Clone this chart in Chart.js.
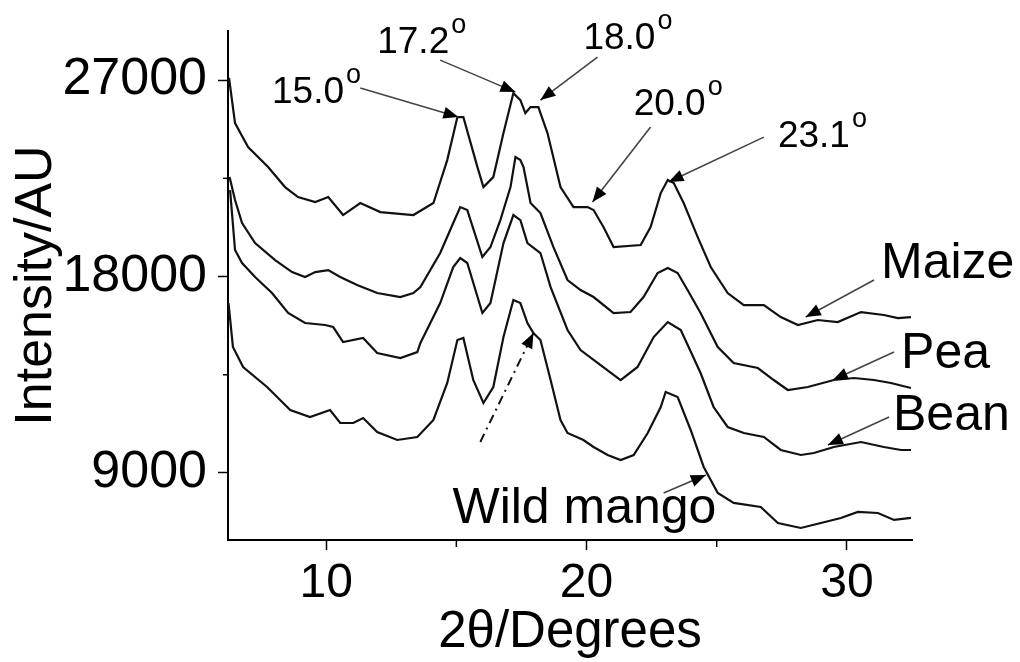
<!DOCTYPE html>
<html>
<head>
<meta charset="utf-8">
<script src="https://cdn.jsdelivr.net/npm/chart.js@4"></script>
<style>
  html, body { margin: 0; padding: 0; background: #fff; }
</style>
</head>
<body>
<canvas id="myChart" width="1020" height="662"></canvas>
<script>
// XRD patterns, 2theta in degrees, intensity in AU
var maizeX = [6.27, 6.50, 7.00, 7.77, 8.42, 8.92, 9.58, 10.08, 10.65, 11.31, 12.08, 13.35, 14.12, 14.65, 15.04, 15.27, 15.81, 16.04, 16.42, 16.81, 17.19, 17.46, 17.65, 17.85, 18.15, 18.50, 19.00, 19.50, 20.04, 20.27, 20.65, 21.04, 22.08, 22.46, 22.85, 23.12, 23.35, 23.73, 24.27, 24.77, 25.42, 26.04, 26.81, 27.46, 28.12, 28.88, 29.65, 30.54, 31.42, 31.96, 32.46];
var maizeY = [27100, 25031, 23931, 23015, 22099, 21641, 21412, 21641, 20817, 21367, 20954, 20817, 21367, 23336, 25305, 25305, 23015, 22099, 22557, 24573, 26405, 26084, 25489, 25763, 25763, 24573, 22099, 21183, 21183, 21046, 20267, 19351, 19443, 20267, 21825, 22420, 22283, 21367, 19809, 18435, 17245, 16695, 16695, 16145, 15779, 16008, 15916, 16374, 16237, 16100, 16145];

var peaX = [6.29, 6.50, 6.77, 7.27, 8.04, 8.69, 9.19, 9.58, 10.08, 10.54, 11.19, 11.96, 12.85, 13.35, 13.62, 14.38, 14.88, 15.15, 15.42, 16.00, 16.31, 16.69, 17.08, 17.27, 17.46, 17.58, 17.85, 18.23, 18.73, 19.27, 19.77, 20.27, 21.04, 21.69, 22.19, 22.73, 23.12, 23.50, 23.88, 24.38, 25.04, 25.65, 26.58, 27.19, 27.73, 28.50, 29.50, 30.27, 31.04, 31.69, 32.46];
var peaY = [22557, 21504, 20451, 19535, 18756, 18206, 17977, 18206, 18298, 17977, 17611, 17245, 17061, 17245, 17519, 19077, 20451, 21183, 21046, 18893, 19351, 20588, 22099, 23473, 23336, 23015, 21367, 20909, 19351, 17840, 17382, 17061, 16329, 16374, 17061, 18161, 18390, 18161, 17382, 16329, 14771, 14039, 13810, 13260, 12802, 12939, 13260, 13352, 13260, 13123, 12894];

var beanX = [6.31, 6.50, 6.77, 7.27, 7.92, 8.54, 9.19, 9.96, 10.27, 10.65, 11.42, 11.96, 12.85, 13.50, 13.62, 14.38, 14.88, 15.15, 15.42, 16.00, 16.31, 16.81, 17.19, 17.46, 17.73, 18.23, 18.62, 19.27, 19.77, 20.54, 21.31, 21.96, 22.58, 23.12, 23.62, 24.38, 24.88, 25.42, 26.04, 26.81, 27.46, 28.23, 28.73, 29.50, 30.54, 31.42, 32.08, 32.46];
var beanY = [21962, 19214, 18619, 17977, 17245, 16329, 15871, 15779, 15687, 15000, 15184, 14497, 14268, 14542, 14955, 16787, 18435, 18848, 18619, 16329, 16787, 19535, 20817, 20588, 19535, 19077, 17519, 15550, 14634, 13947, 13260, 13857, 15229, 15916, 15550, 13581, 12023, 11107, 10833, 10649, 10054, 9825, 9917, 10191, 10420, 10191, 10054, 10054];

var mangoX = [6.25, 6.42, 6.81, 7.73, 8.62, 9.38, 10.15, 10.54, 11.04, 11.42, 11.96, 12.73, 13.50, 14.12, 14.65, 15.04, 15.27, 15.65, 16.04, 16.42, 16.81, 17.19, 17.46, 17.73, 17.96, 18.23, 18.62, 19.00, 19.27, 19.88, 20.27, 20.81, 21.31, 21.81, 22.35, 22.85, 23.04, 23.50, 24.00, 24.50, 25.04, 25.65, 26.69, 27.35, 28.23, 29.00, 29.77, 30.42, 31.19, 31.81, 32.46];
var mangoY = [16787, 14771, 13857, 12939, 11886, 11565, 11886, 11291, 11291, 11520, 10878, 10512, 10649, 11428, 13123, 15092, 15184, 13260, 12207, 12939, 15229, 16924, 16787, 15871, 15413, 15092, 13260, 11428, 10833, 10512, 10191, 9825, 9596, 9825, 10833, 12023, 12710, 12481, 10970, 9275, 8085, 7627, 7443, 6711, 6482, 6711, 6940, 7214, 7168, 6848, 6940];

// axis ticks: all tick positions, and the ones that carry a label
var xTicks = [10, 15, 20, 25, 30];
var xTickLabels = [10, 20, 30];
var yTicks = [9000, 13500, 18000, 22500, 27000];
var yTickLabels = [9000, 18000, 27000];

// peak labels (2theta text) and where their arrows point
var peakLabels = ['15.0', '17.2', '18.0', '20.0', '23.1'];
var peakLabelX = [7.92, 11.96, 19.88, 21.81, 27.35];
var peakLabelY = [25947, 28237, 28420, 25397, 23931];
var peakArrowFrom = [[11.31, 26634], [14.38, 27916], [20.42, 28053], [22.46, 24847], [26.81, 24389]];
var peakArrowTo = [[15.08, 25305], [17.27, 26450], [18.23, 26084], [20.23, 21412], [23.15, 22328]];

// sample names and their arrows
var sampleNames = ['Maize', 'Pea', 'Bean', 'Wild mango'];
var nameX = [31.31, 32.08, 31.77, 14.85];
var nameY = [17932, 13810, 10970, 6711];
var nameArrowFrom = [[31.04, 17840], [31.81, 14542], [31.62, 11565], [22.96, 8085]];
var nameArrowTo = [[28.42, 16145], [29.46, 13260], [29.27, 10283], [24.58, 8909]];

// dash-dot arrow to the 18.0 shoulder of wild mango
var shoulderFrom = [15.92, 10420];
var shoulderTo = [17.96, 15413];

var fontFam = "'Liberation Sans', Arial, Helvetica, sans-serif";
Chart.defaults.font.family = fontFam;
Chart.defaults.color = '#000';

function toPoints(xs, ys) {
    var pts = [];
    for (var i = 0; i < xs.length; i++) {
        pts.push({ x: xs[i], y: ys[i] });
    }
    return pts;
}

function series(label, xs, ys) {
    return {
        label: label,
        data: toPoints(xs, ys),
        borderColor: '#111',
        borderWidth: 2.2,
        pointRadius: 0,
        tension: 0,
        fill: false
    };
}

function isMajor(list, v) {
    return list.indexOf(v) !== -1;
}

function arrowHead(ctx, x1, y1, x2, y2, len, half) {
    var a = Math.atan2(y2 - y1, x2 - x1);
    var c = Math.cos(a), s = Math.sin(a);
    ctx.beginPath();
    ctx.moveTo(x2, y2);
    ctx.lineTo(x2 - len * c + half * s, y2 - len * s - half * c);
    ctx.lineTo(x2 - len * c - half * s, y2 - len * s + half * c);
    ctx.closePath();
    ctx.fill();
}

function drawArrow(ctx, xs, ys, from, to, dash) {
    var x1 = xs.getPixelForValue(from[0]), y1 = ys.getPixelForValue(from[1]);
    var x2 = xs.getPixelForValue(to[0]), y2 = ys.getPixelForValue(to[1]);
    ctx.save();
    ctx.strokeStyle = dash ? '#111' : '#444';
    ctx.lineWidth = dash ? 2 : 1.6;
    if (dash) ctx.setLineDash([9, 5, 2, 5]);
    ctx.beginPath();
    ctx.moveTo(x1, y1);
    ctx.lineTo(x2, y2);
    ctx.stroke();
    ctx.setLineDash([]);
    ctx.fillStyle = '#000';
    arrowHead(ctx, x1, y1, x2, y2, 15, 6);
    ctx.restore();
}

// no extra room for half labels at the ends of the axes
function noEdgePadding(s) {
    s.paddingTop = 0;
    s.paddingBottom = 0;
    s.paddingLeft = 0;
    s.paddingRight = 0;
}

var annotations = {
    id: 'annotations',
    afterDraw: function (chart) {
        var ctx = chart.ctx;
        var xs = chart.scales.x, ys = chart.scales.y;
        ctx.save();

        // short minor ticks
        ctx.strokeStyle = '#000';
        ctx.lineWidth = 1.5;
        xTicks.forEach(function (v) {
            if (!isMajor(xTickLabels, v)) {
                var px = xs.getPixelForValue(v);
                ctx.beginPath(); ctx.moveTo(px, xs.top); ctx.lineTo(px, xs.top + 7); ctx.stroke();
            }
        });
        yTicks.forEach(function (v) {
            if (!isMajor(yTickLabels, v)) {
                var py = ys.getPixelForValue(v);
                ctx.beginPath(); ctx.moveTo(ys.right - 5, py); ctx.lineTo(ys.right, py); ctx.stroke();
            }
        });

        // peak positions
        ctx.fillStyle = '#000';
        ctx.textBaseline = 'alphabetic';
        ctx.textAlign = 'left';
        for (var i = 0; i < peakLabels.length; i++) {
            var lx = xs.getPixelForValue(peakLabelX[i]);
            var ly = ys.getPixelForValue(peakLabelY[i]);
            ctx.font = '37px ' + fontFam;
            ctx.fillText(peakLabels[i], lx, ly);
            var w = ctx.measureText(peakLabels[i]).width;
            ctx.font = '27px ' + fontFam;
            ctx.fillText('o', lx + w + 2, ly - 20);
            drawArrow(ctx, xs, ys, peakArrowFrom[i], peakArrowTo[i], false);
        }

        // sample names
        ctx.font = '50px ' + fontFam;
        for (var j = 0; j < sampleNames.length; j++) {
            ctx.fillStyle = '#000';
            ctx.fillText(sampleNames[j], xs.getPixelForValue(nameX[j]), ys.getPixelForValue(nameY[j]));
            drawArrow(ctx, xs, ys, nameArrowFrom[j], nameArrowTo[j], false);
        }

        drawArrow(ctx, xs, ys, shoulderFrom, shoulderTo, true);
        ctx.restore();
    }
};

var ctx = document.getElementById('myChart').getContext('2d');
var chart = new Chart(ctx, {
    type: 'line',
    data: {
        datasets: [
            series('Maize', maizeX, maizeY),
            series('Pea', peaX, peaY),
            series('Bean', beanX, beanY),
            series('Wild mango', mangoX, mangoY)
        ]
    },
    options: {
        responsive: false,
        animation: false,
        devicePixelRatio: 1,
        layout: { padding: { top: 31, right: 108, left: 0, bottom: 0 } },
        plugins: {
            legend: { display: false },
            tooltip: { enabled: false }
        },
        scales: {
            x: {
                type: 'linear',
                min: 6.23,
                max: 32.5,
                afterBuildTicks: function (s) {
                    s.ticks = xTicks.map(function (v) { return { value: v }; });
                },
                ticks: {
                    autoSkip: false,
                    maxRotation: 0,
                    padding: 5,
                    color: '#000',
                    font: { size: 48 },
                    callback: function (v) { return isMajor(xTickLabels, v) ? String(v) : ''; }
                },
                grid: {
                    drawOnChartArea: false,
                    tickLength: 10,
                    tickWidth: 1.5,
                    tickColor: function (c) { return c.tick && isMajor(xTickLabels, c.tick.value) ? '#000' : 'rgba(0,0,0,0)'; }
                },
                border: { display: true, color: '#000', width: 2 },
                title: {
                    display: true,
                    text: '2θ/Degrees',
                    color: '#000',
                    font: { size: 51, lineHeight: 1 },
                    padding: { top: 0, bottom: 4 }
                },
                afterFit: function (s) { s.height = 122; noEdgePadding(s); }
            },
            y: {
                min: 5930,
                max: 29250,
                afterBuildTicks: function (s) {
                    s.ticks = yTicks.map(function (v) { return { value: v }; });
                },
                ticks: {
                    autoSkip: false,
                    padding: 11,
                    color: '#000',
                    font: { size: 52 },
                    callback: function (v) { return isMajor(yTickLabels, v) ? String(v) : ''; }
                },
                grid: {
                    drawOnChartArea: false,
                    tickLength: 10,
                    tickWidth: 1.5,
                    tickColor: function (c) { return c.tick && isMajor(yTickLabels, c.tick.value) ? '#000' : 'rgba(0,0,0,0)'; }
                },
                border: { display: true, color: '#000', width: 2 },
                title: {
                    display: true,
                    text: 'Intensity/AU',
                    color: '#000',
                    font: { size: 52, lineHeight: 1 },
                    padding: { top: 11, bottom: 0 }
                },
                afterFit: function (s) { s.width = 228; noEdgePadding(s); }
            }
        }
    },
    plugins: [annotations]
});
</script>
</body>
</html>
